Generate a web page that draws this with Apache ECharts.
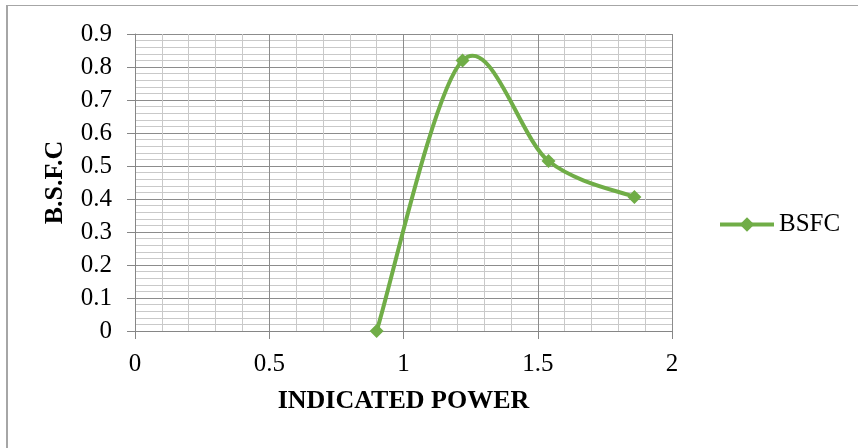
<!DOCTYPE html>
<html>
<head>
<meta charset="utf-8">
<script src="https://cdn.jsdelivr.net/npm/echarts@6/dist/echarts.min.js"></script>
<style>
  html, body { margin: 0; padding: 0; background: #fff; }
  #frameTop { position: absolute; left: 6px; top: 5px; width: 852px; height: 0; border-top: 1px solid #a6a6a6; }
  #frameLeft { position: absolute; left: 6px; top: 5px; width: 0; height: 443px; border-left: 2px solid #a6a6a6; }
  #chart { position: absolute; left: 0; top: 0; width: 858px; height: 448px; }
</style>
</head>
<body>
<div id="frameTop"></div>
<div id="frameLeft"></div>
<div id="chart"></div>
<script>
// Indicated power vs. brake specific fuel consumption
const indicatedPower = [0.9, 1.22, 1.54, 1.86];
const bsfcValues = [0, 0.82, 0.515, 0.406];
const seriesName = 'BSFC';
const xTitle = 'INDICATED POWER';
const yTitle = 'B.S.F.C';

const font = '"Liberation Serif", "Times New Roman", serif';
const green = '#70ad47';
const points = indicatedPower.map((x, i) => [x, bsfcValues[i]]);

// Smoothed curve: cubic Bezier segments with Catmull-Rom style tangents,
// laid out in pixel space through the chart's own coordinate system.
function renderCurve(params, api) {
  const p = points.map(pt => api.coord(pt));
  const n = p.length;
  let d = 'M' + p[0][0] + ' ' + p[0][1];
  for (let i = 0; i < n - 1; i++) {
    const p0 = p[Math.max(i - 1, 0)];
    const p1 = p[i];
    const p2 = p[i + 1];
    const p3 = p[Math.min(i + 2, n - 1)];
    const c1 = [p1[0] + (p2[0] - p0[0]) / 6, p1[1] + (p2[1] - p0[1]) / 6];
    const c2 = [p2[0] - (p3[0] - p1[0]) / 6, p2[1] - (p3[1] - p1[1]) / 6];
    d += ' C' + c1[0] + ' ' + c1[1] + ' ' + c2[0] + ' ' + c2[1] + ' ' + p2[0] + ' ' + p2[1];
  }
  return {
    type: 'path',
    shape: { pathData: d },
    style: { stroke: green, lineWidth: 4, fill: null, lineCap: 'round', lineJoin: 'round' }
  };
}

const chart = echarts.init(document.getElementById('chart'), null, { renderer: 'canvas' });
chart.setOption({
  animation: false,
  backgroundColor: 'transparent',
  grid: { left: 135, right: 186, top: 34, bottom: 117, containLabel: false },
  legend: {
    data: [seriesName],
    left: 718, top: 212,
    padding: 0,
    itemWidth: 54, itemHeight: 18,
    textStyle: { fontFamily: font, fontSize: 25, color: '#000' },
    lineStyle: { color: green, width: 4, opacity: 1 },
    itemStyle: { color: green, opacity: 1 }
  },
  xAxis: {
    type: 'value', min: 0, max: 2, interval: 0.5,
    name: xTitle, nameLocation: 'middle', nameGap: 57,
    nameTextStyle: { fontFamily: font, fontSize: 26, fontWeight: 'bold', color: '#000' },
    axisLine: { show: true, lineStyle: { color: '#868686', width: 1 } },
    axisTick: { show: true, length: 8, lineStyle: { color: '#868686' } },
    axisLabel: { fontFamily: font, fontSize: 25, color: '#000', margin: 21 },
    splitLine: { show: true, lineStyle: { color: '#8c8c8c', width: 1 } },
    minorTick: { show: false, splitNumber: 5 },
    minorSplitLine: { show: true, lineStyle: { color: '#c9c9c9', width: 1 } }
  },
  yAxis: {
    type: 'value', min: 0, max: 0.9, interval: 0.1,
    name: yTitle, nameLocation: 'middle', nameGap: 67, nameRotate: 90,
    nameTextStyle: { fontFamily: font, fontSize: 26, fontWeight: 'bold', color: '#000' },
    axisLine: { show: true, lineStyle: { color: '#868686', width: 1 } },
    axisTick: { show: true, length: 8, lineStyle: { color: '#868686' } },
    axisLabel: { fontFamily: font, fontSize: 25, color: '#000', margin: 23,
      formatter: v => String(Math.round(v * 10) / 10) },
    splitLine: { show: true, lineStyle: { color: '#8c8c8c', width: 1 } },
    minorTick: { show: false, splitNumber: 5 },
    minorSplitLine: { show: true, lineStyle: { color: '#c9c9c9', width: 1 } }
  },
  series: [{
    name: 'curve',
    type: 'custom',
    coordinateSystem: 'cartesian2d',
    renderItem: renderCurve,
    data: [points[0]],
    silent: true,
    z: 2
  }, {
    name: seriesName,
    type: 'line',
    data: points,
    symbol: 'diamond',
    symbolSize: 14,
    lineStyle: { color: green, width: 4, opacity: 0 },
    itemStyle: { color: green },
    z: 3
  }]
});
</script>
</body>
</html>
